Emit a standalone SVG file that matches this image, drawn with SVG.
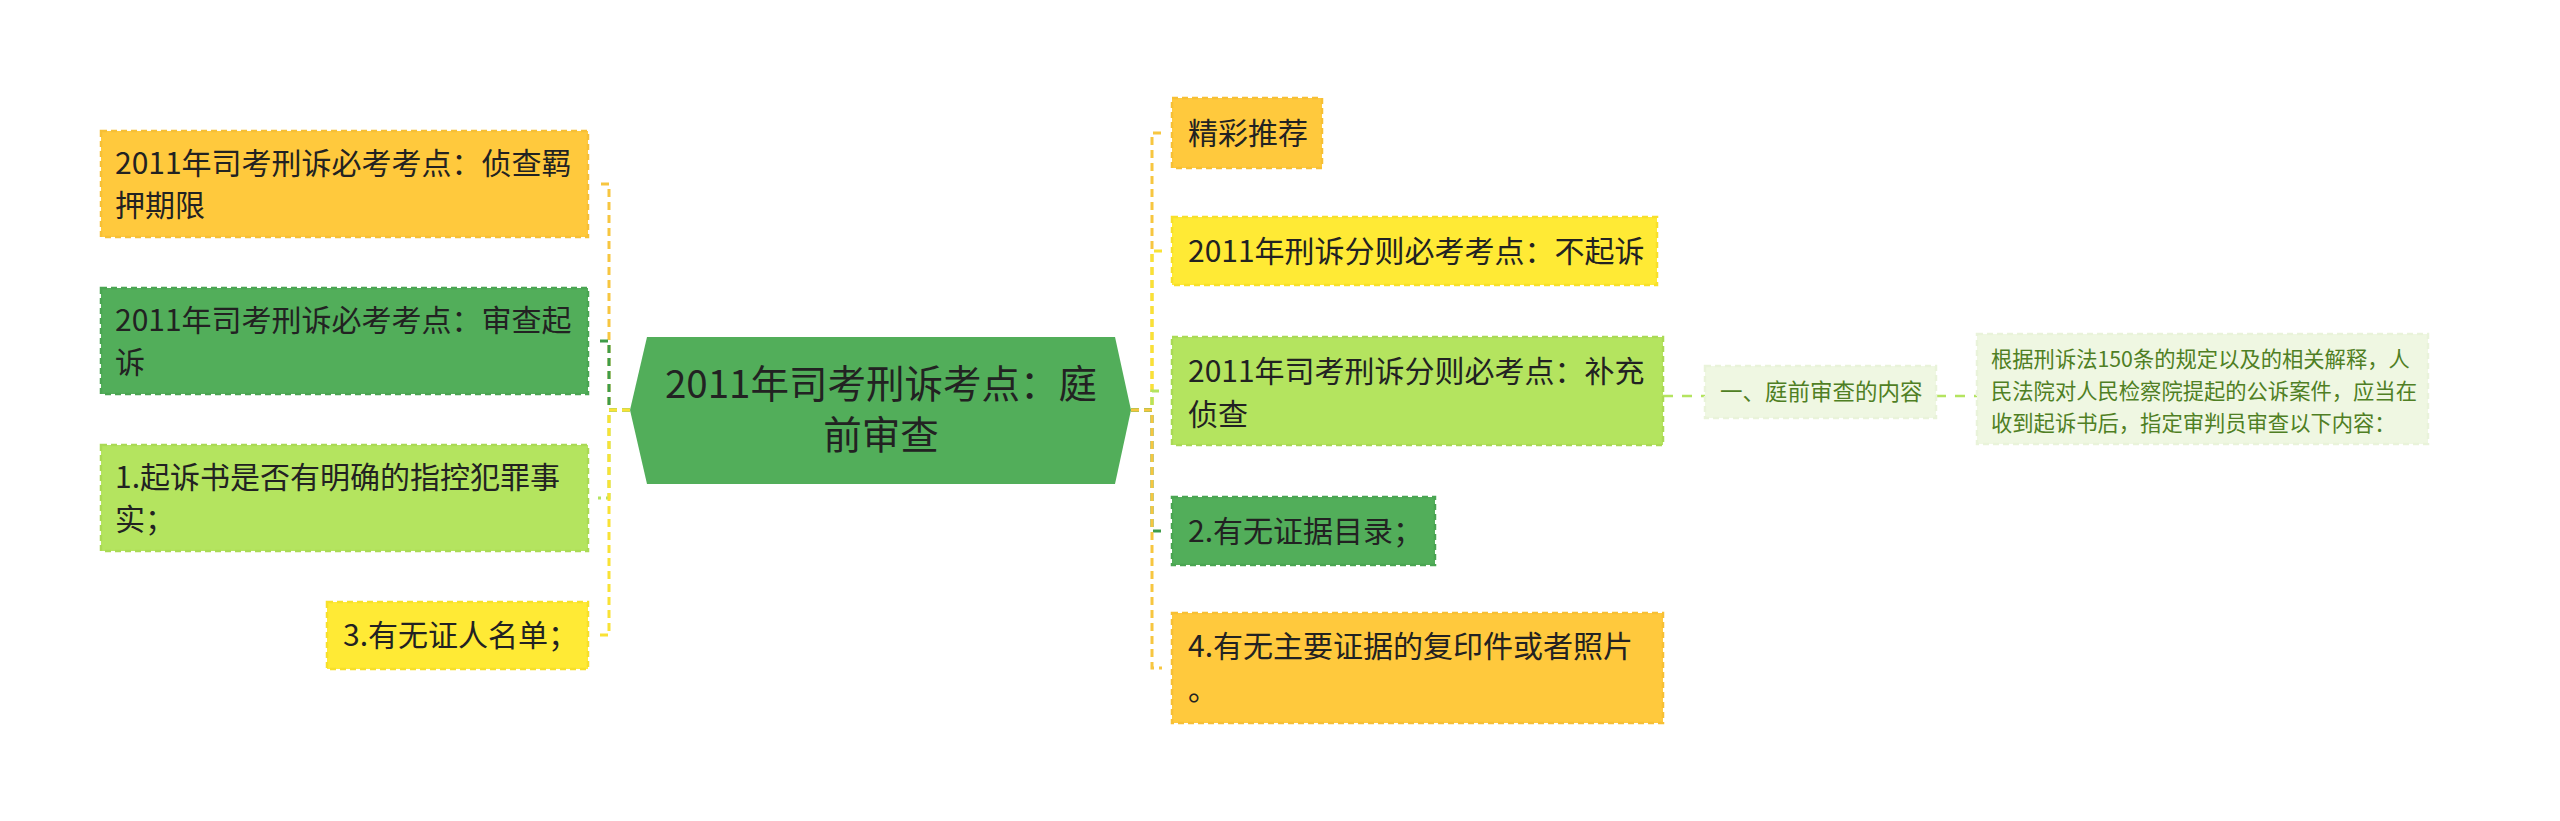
<svg xmlns="http://www.w3.org/2000/svg" width="2560" height="821" viewBox="0 0 2560 821">
<style>
text{font-family:"Noto Sans CJK SC","Microsoft YaHei",sans-serif;fill:#222;}
.t30{font-size:30px;}
.t38{font-size:38.5px;}
.t22{font-size:22.5px;fill:#4f7f24;}
.t21{font-size:21.3px;fill:#4f7f24;}
.box{stroke-width:2.5;stroke-dasharray:6 4;}
.or{fill:#ffc93d;stroke:#f7c035;}
.ye{fill:#ffea35;stroke:#f7e02a;}
.lg{fill:#b4e45f;stroke:#aada55;}
.dg{fill:#52ae5a;stroke:#4aa552;}
.pale{fill:#eff7e2;stroke:#e9f3da;}
.c{fill:none;stroke-width:3;stroke-dasharray:8 5;}
.cor{stroke:#f7c640;}
.cye{stroke:#f9e235;}
.clg{stroke:#b4e45f;}
.cdg{stroke:#3f9c49;}
.sub{stroke-dasharray:10 9;stroke-width:2.5;}
</style>
<rect width="2560" height="821" fill="#ffffff"/>
<g id="connectors">
<path class="c cor" d="M630,410 H609 V184 H598"/>
<path class="c cdg" d="M630,410 H609 V341 H598"/>
<path class="c clg" d="M630,410 H609 V498 H598"/>
<path class="c cye" d="M630,410 H609 V635 H598"/>
<path class="c cor" d="M1131,410 H1152 V133 H1162"/>
<path class="c cye" d="M1131,410 H1152 V251 H1162"/>
<path class="c clg" d="M1131,410 H1152 V391 H1162"/>
<path class="c cdg" d="M1131,410 H1152 V531 H1162"/>
<path class="c cor" d="M1131,410 H1152 V668 H1162"/>
<path class="c clg sub" d="M1663,396 H1705"/>
<path class="c clg sub" d="M1936,396 H1977"/>
</g>
<g id="center">
<polygon points="630,410 647,337 1115,337 1131,410 1115,484 647,484" fill="#52ae5a"/>
<text class="t38" text-anchor="middle"><tspan x="881" y="398">2011年司考刑诉考点：庭</tspan><tspan x="881" y="449">前审查</tspan></text>
</g>
<g id="left1">
<rect class="box or" x="101" y="131" width="487" height="106"/>
<text class="t30"><tspan x="115" y="174">2011年司考刑诉必考考点：侦查羁</tspan><tspan x="115" y="216">押期限</tspan></text>
</g>
<g id="left2">
<rect class="box dg" x="101" y="288" width="487" height="106"/>
<text class="t30"><tspan x="115" y="331">2011年司考刑诉必考考点：审查起</tspan><tspan x="115" y="373">诉</tspan></text>
</g>
<g id="left3">
<rect class="box lg" x="101" y="445" width="487" height="106"/>
<text class="t30"><tspan x="115" y="488">1.起诉书是否有明确的指控犯罪事</tspan><tspan x="115" y="530">实；</tspan></text>
</g>
<g id="left4">
<rect class="box ye" x="327" y="602" width="261" height="67"/>
<text class="t30" x="343" y="646">3.有无证人名单；</text>
</g>
<g id="right1">
<rect class="box or" x="1172" y="98" width="150" height="70"/>
<text class="t30" x="1188" y="144">精彩推荐</text>
</g>
<g id="right2">
<rect class="box ye" x="1172" y="217" width="485" height="68"/>
<text class="t30" x="1188" y="262">2011年刑诉分则必考考点：不起诉</text>
</g>
<g id="right3">
<rect class="box lg" x="1172" y="337" width="491" height="108"/>
<text class="t30"><tspan x="1188" y="382">2011年司考刑诉分则必考点：补充</tspan><tspan x="1188" y="425">侦查</tspan></text>
</g>
<g id="right4">
<rect class="box dg" x="1172" y="497" width="263" height="68"/>
<text class="t30" x="1188" y="542">2.有无证据目录；</text>
</g>
<g id="right5">
<rect class="box or" x="1172" y="613" width="491" height="110"/>
<text class="t30"><tspan x="1188" y="657">4.有无主要证据的复印件或者照片</tspan><tspan x="1188" y="700">。</tspan></text>
</g>
<g id="sub">
<rect class="box pale" x="1705" y="366" width="231" height="52"/>
<text class="t22" x="1720" y="400">一、庭前审查的内容</text>
</g>
<g id="leaf">
<rect class="box pale" x="1977" y="334" width="451" height="110"/>
<text class="t21"><tspan x="1991" y="367">根据刑诉法150条的规定以及的相关解释，人</tspan><tspan x="1991" y="399">民法院对人民检察院提起的公诉案件，应当在</tspan><tspan x="1991" y="431">收到起诉书后，指定审判员审查以下内容：</tspan></text>
</g>
</svg>
